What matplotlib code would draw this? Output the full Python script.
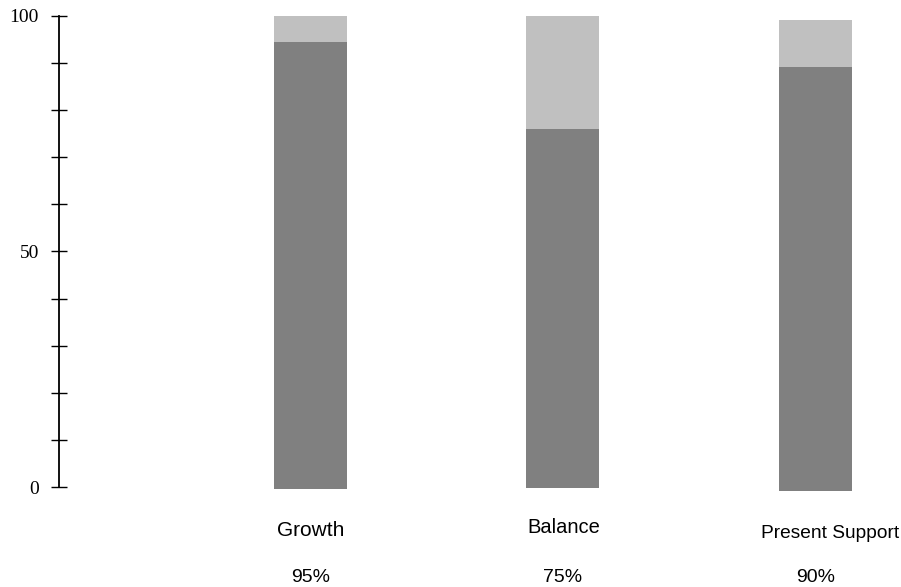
import matplotlib
matplotlib.use('Agg')
import matplotlib.pyplot as plt
import matplotlib.transforms as mtransforms

categories = ['Growth', 'Balance', 'Present Support']
pct_labels = ['95%', '75%', '90%']
base = [-0.4, -0.2, -0.8]          # bars start a bit under the 0 line in the picture
dark_top = [94.4, 76.0, 89.1]
light_top = [100.0, 100.0, 99.1]
yticks = [0, 10, 20, 30, 40, 50, 60, 70, 80, 90, 100]
ylabels = ['0', '', '', '', '', '50', '', '', '', '', '100']

fig = plt.figure(figsize=(9.01, 5.87), dpi=100)
ax = fig.add_axes([0.066, 0.130, 0.934, 0.8511])

x = list(range(len(categories)))
dark_h = [d - b for d, b in zip(dark_top, base)]
light_h = [l - d for l, d in zip(light_top, dark_top)]
ax.bar(x, dark_h, bottom=base, width=0.289, color='#808080', linewidth=0)
ax.bar(x, light_h, bottom=dark_top, width=0.289, color='#c0c0c0', linewidth=0)

ax.set_xlim(-0.994, 2.34)
ax.set_ylim(-5, 101)

for s in ['top', 'right', 'bottom']:
    ax.spines[s].set_visible(False)
ax.spines['left'].set_bounds(0, 100)
ax.spines['left'].set_linewidth(1.3)
ax.set_xticks([])
ax.set_yticks(yticks)
ax.set_yticklabels(ylabels, family='Liberation Serif', fontsize=14)
ax.tick_params(axis='y', direction='inout', length=11.5, width=1.0, pad=9)

# category names and percentages under the bars
name_dx = [0, 1, 15]
name_dy = [-43, -40, -46]
name_size = [15, 14.5, 13.8]
for i in x:
    tr = mtransforms.offset_copy(ax.transData, fig=fig, x=name_dx[i], y=name_dy[i], units='dots')
    ax.text(i, 0, categories[i], transform=tr, ha='center', va='center',
            family='Liberation Sans', fontsize=name_size[i], clip_on=False)
    tr2 = mtransforms.offset_copy(ax.transData, fig=fig, x=0, y=-90, units='dots')
    ax.text(i, 0, pct_labels[i], transform=tr2, ha='center', va='center',
            family='Liberation Sans', fontsize=14, clip_on=False)

plt.savefig('out.png', dpi=100)
